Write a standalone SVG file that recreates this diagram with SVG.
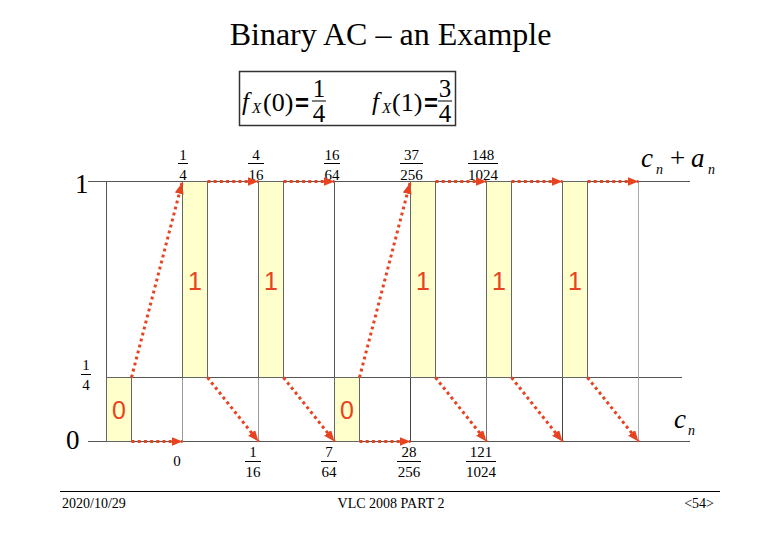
<svg xmlns="http://www.w3.org/2000/svg" width="780" height="540" viewBox="0 0 780 540">
<style>
.serif{font-family:"Liberation Serif","Times New Roman",serif;fill:#000}
.it{font-style:italic}
.frac{font-family:"Liberation Serif","Times New Roman",serif;font-size:15px;text-anchor:middle;fill:#000}
.bar{stroke:#000;stroke-width:1}
.grid{stroke:#555;stroke-width:1;fill:none}
.box{fill:#ffffcc;stroke:#666;stroke-width:1}
.sym{font-family:"Liberation Sans",Arial,sans-serif;font-size:25px;fill:#e84320;text-anchor:middle}
.arr{stroke:#e84320;stroke-width:3;stroke-dasharray:3 3.2;fill:none;marker-end:url(#ah)}
.foot{font-family:"Liberation Serif","Times New Roman",serif;font-size:14px;fill:#000}
</style>
<defs>
<marker id="ah" markerUnits="userSpaceOnUse" markerWidth="12" markerHeight="10" refX="11" refY="4.5" orient="auto">
<path d="M0,0 L11,4.5 L0,9 z" fill="#e84320"/>
</marker>
</defs>
<rect width="780" height="540" fill="#fff"/>

<text class="serif" x="390.5" y="45" font-size="32" text-anchor="middle">Binary AC – an Example</text>

<g id="formula">
<rect x="239.5" y="71.5" width="216" height="54" fill="none" stroke="#333" stroke-width="1.5"/>
<text class="serif it" x="242" y="110" font-size="25" font-family="Liberation Serif,serif">f</text>
<text class="serif it" x="252" y="113" font-size="15" font-family="Liberation Serif,serif">X</text>
<text class="serif" x="263" y="111" font-size="26" font-family="Liberation Serif,serif">(0)</text>
<text x="295" y="111" font-family="Liberation Sans,Arial,sans-serif" font-weight="bold" font-size="24">=</text>
<text class="serif" x="319" y="97" font-size="25" text-anchor="middle" font-family="Liberation Serif,serif">1</text>
<line class="bar" x1="312" y1="101" x2="326" y2="101" stroke-width="1.3"/>
<text class="serif" x="319" y="122" font-size="25" text-anchor="middle" font-family="Liberation Serif,serif">4</text>
<text class="serif it" x="372" y="110" font-size="25" font-family="Liberation Serif,serif">f</text>
<text class="serif it" x="382" y="113" font-size="15" font-family="Liberation Serif,serif">X</text>
<text class="serif" x="392" y="111" font-size="26" font-family="Liberation Serif,serif">(1)</text>
<text x="424" y="111" font-family="Liberation Sans,Arial,sans-serif" font-weight="bold" font-size="24">=</text>
<text class="serif" x="445" y="97" font-size="25" text-anchor="middle" font-family="Liberation Serif,serif">3</text>
<line class="bar" x1="438" y1="101" x2="452" y2="101" stroke-width="1.3"/>
<text class="serif" x="445" y="122" font-size="25" text-anchor="middle" font-family="Liberation Serif,serif">4</text>
</g>

<g id="axes">
<line class="grid" x1="88" y1="181.5" x2="690" y2="181.5"/>
<line class="grid" x1="106.5" y1="377.5" x2="682" y2="377.5"/>
<line class="grid" x1="88" y1="441.5" x2="690" y2="441.5"/>
<text class="serif" x="75" y="193" font-size="27">1</text>
<text class="serif" x="66" y="449" font-size="27">0</text>
<text class="frac" x="86" y="370" font-size="14">1</text>
<line class="bar" x1="81" y1="374.5" x2="91" y2="374.5"/>
<text class="frac" x="86" y="390" font-size="14">4</text>
<text class="serif it" x="641" y="167" font-size="27">c</text>
<text class="serif it" x="656" y="174" font-size="14">n</text>
<text class="serif" x="670" y="167" font-size="27">+</text>
<text class="serif it" x="691" y="167" font-size="27">a</text>
<text class="serif it" x="708" y="174" font-size="14">n</text>
<text class="serif it" x="674" y="428" font-size="27">c</text>
<text class="serif it" x="688" y="435" font-size="14">n</text>
</g>

<g id="step0">
<line x1="106.5" y1="181.5" x2="106.5" y2="441.5" stroke="#555"/>
<rect class="box" x="106.5" y="377.5" width="25" height="64"/>
<text class="sym" x="119" y="419">0</text>
</g>
<g id="step1">
<line x1="182.5" y1="181.5" x2="182.5" y2="441.5" stroke="#999"/>
<rect class="box" x="182.5" y="181.5" width="25" height="196" stroke="#aaa"/>
<text class="sym" x="195" y="290">1</text>
</g>
<g id="step2">
<line x1="258.5" y1="181.5" x2="258.5" y2="441.5" stroke="#999"/>
<rect class="box" x="258.5" y="181.5" width="25" height="196" stroke="#999"/>
<text class="sym" x="271" y="290">1</text>
</g>
<g id="step3">
<line x1="334.5" y1="181.5" x2="334.5" y2="441.5" stroke="#555"/>
<rect class="box" x="334.5" y="377.5" width="25" height="64" stroke="#555"/>
<text class="sym" x="347" y="419">0</text>
</g>
<g id="step4">
<line x1="410.5" y1="181.5" x2="410.5" y2="441.5" stroke="#444"/>
<rect class="box" x="410.5" y="181.5" width="25" height="196" stroke="#444"/>
<text class="sym" x="423" y="290">1</text>
</g>
<g id="step5">
<line x1="486.5" y1="181.5" x2="486.5" y2="441.5" stroke="#777"/>
<rect class="box" x="486.5" y="181.5" width="25" height="196" stroke="#555"/>
<text class="sym" x="499" y="290">1</text>
</g>
<g id="step6">
<line x1="562.5" y1="181.5" x2="562.5" y2="441.5" stroke="#444"/>
<rect class="box" x="562.5" y="181.5" width="25" height="196" stroke="#444"/>
<text class="sym" x="575" y="290">1</text>
</g>
<g id="step7">
<line x1="638.5" y1="181.5" x2="638.5" y2="441.5" stroke="#aaa"/>
</g>

<g id="labels">
<text class="frac" x="183" y="159.5">1</text><line class="bar" x1="178" y1="163.5" x2="188" y2="163.5"/><text class="frac" x="183" y="179.5">4</text>
<text class="frac" x="256" y="159.5">4</text><line class="bar" x1="248" y1="163.5" x2="264" y2="163.5"/><text class="frac" x="256" y="179.5">16</text>
<text class="frac" x="332" y="159.5">16</text><line class="bar" x1="324" y1="163.5" x2="340" y2="163.5"/><text class="frac" x="332" y="179.5">64</text>
<text class="frac" x="411.5" y="159.5">37</text><line class="bar" x1="400" y1="163.5" x2="423" y2="163.5"/><text class="frac" x="411.5" y="179.5">256</text>
<text class="frac" x="483" y="159.5">148</text><line class="bar" x1="468" y1="163.5" x2="498" y2="163.5"/><text class="frac" x="483" y="179.5">1024</text>
<text class="frac" x="177" y="466" font-size="13">0</text>
<text class="frac" x="253" y="457">1</text><line class="bar" x1="245" y1="461.5" x2="261" y2="461.5"/><text class="frac" x="253" y="477">16</text>
<text class="frac" x="329" y="457">7</text><line class="bar" x1="321" y1="461.5" x2="337" y2="461.5"/><text class="frac" x="329" y="477">64</text>
<text class="frac" x="409" y="457">28</text><line class="bar" x1="397" y1="461.5" x2="421" y2="461.5"/><text class="frac" x="409" y="477">256</text>
<text class="frac" x="481" y="457">121</text><line class="bar" x1="466" y1="461.5" x2="496" y2="461.5"/><text class="frac" x="481" y="477">1024</text>
</g>

<g id="connectors">
<line class="arr" x1="131.5" y1="377.5" x2="182" y2="183"/>
<line class="arr" x1="131.5" y1="441.5" x2="182.5" y2="441.5"/>
<line class="arr" x1="207.5" y1="181.5" x2="258.5" y2="181.5"/>
<line class="arr" x1="207.5" y1="377.5" x2="258.5" y2="441.5"/>
<line class="arr" x1="283.5" y1="181.5" x2="334.5" y2="181.5"/>
<line class="arr" x1="283.5" y1="377.5" x2="334.5" y2="441.5"/>
<line class="arr" x1="359.5" y1="377.5" x2="410" y2="183"/>
<line class="arr" x1="359.5" y1="441.5" x2="410.5" y2="441.5"/>
<line class="arr" x1="435.5" y1="181.5" x2="486.5" y2="181.5"/>
<line class="arr" x1="435.5" y1="377.5" x2="486.5" y2="441.5"/>
<line class="arr" x1="511.5" y1="181.5" x2="562.5" y2="181.5"/>
<line class="arr" x1="511.5" y1="377.5" x2="562.5" y2="441.5"/>
<line class="arr" x1="587.5" y1="181.5" x2="638.5" y2="181.5"/>
<line class="arr" x1="587.5" y1="377.5" x2="638.5" y2="441.5"/>
</g>

<g id="footer">
<line x1="60" y1="491.5" x2="720" y2="491.5" stroke="#000" stroke-width="1"/>
<text class="foot" x="62" y="508">2020/10/29</text>
<text class="foot" x="391" y="508" text-anchor="middle">VLC 2008 PART 2</text>
<text class="foot" x="714" y="508" text-anchor="end">&lt;54&gt;</text>
</g>
</svg>
